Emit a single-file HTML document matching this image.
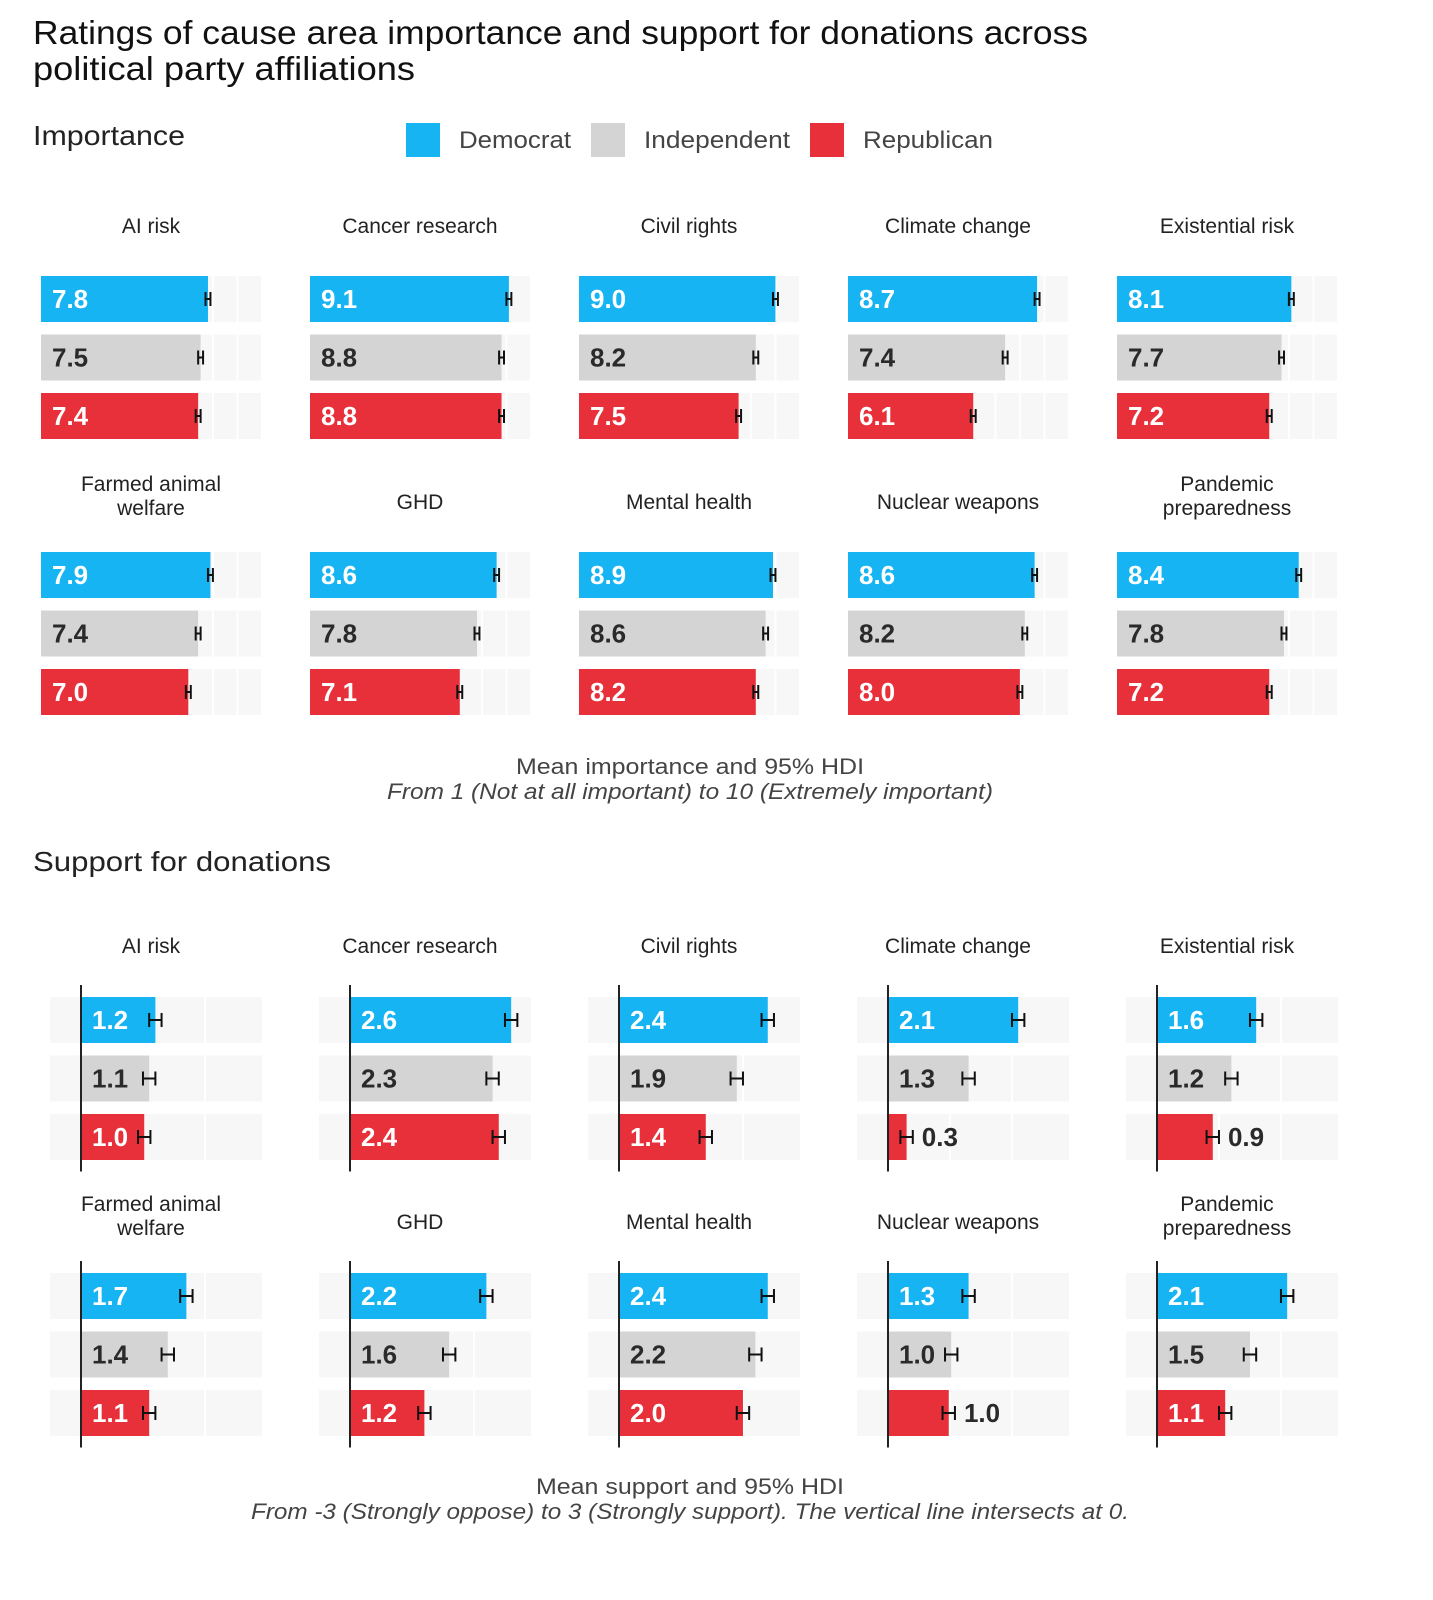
<!DOCTYPE html>
<html><head><meta charset="utf-8">
<style>
html,body{margin:0;padding:0;background:#fff;}
svg{display:block;font-family:"Liberation Sans",sans-serif;}
</style></head>
<body>
<svg id="chart" width="1433" height="1600" viewBox="0 0 1433 1600">
<text x="33" y="44" font-size="33" fill="#111" textLength="1055" lengthAdjust="spacingAndGlyphs">Ratings of cause area importance and support for donations across</text>
<text x="33" y="80" font-size="33" fill="#111" textLength="382" lengthAdjust="spacingAndGlyphs">political party affiliations</text>
<text x="33" y="145" font-size="28" fill="#222" textLength="152" lengthAdjust="spacingAndGlyphs">Importance</text>
<g>
<rect x="406" y="123" width="34" height="34" fill="#16b4f2"/>
<text x="459" y="148" font-size="24" fill="#444" textLength="112" lengthAdjust="spacingAndGlyphs">Democrat</text>
<rect x="591" y="123" width="34" height="34" fill="#d4d4d4"/>
<text x="644" y="148" font-size="24" fill="#444" textLength="146" lengthAdjust="spacingAndGlyphs">Independent</text>
<rect x="810" y="123" width="34" height="34" fill="#e8303a"/>
<text x="863" y="148" font-size="24" fill="#444" textLength="130" lengthAdjust="spacingAndGlyphs">Republican</text>
</g>
<text x="690" y="774" font-size="22" fill="#444" text-anchor="middle" textLength="348" lengthAdjust="spacingAndGlyphs">Mean importance and 95% HDI</text>
<text x="690" y="799" font-size="22" fill="#444" font-style="italic" text-anchor="middle" textLength="606" lengthAdjust="spacingAndGlyphs">From 1 (Not at all important) to 10 (Extremely important)</text>
<text x="33" y="871" font-size="28" fill="#222" textLength="298" lengthAdjust="spacingAndGlyphs">Support for donations</text>
<text x="690" y="1494" font-size="22" fill="#444" text-anchor="middle" textLength="308" lengthAdjust="spacingAndGlyphs">Mean support and 95% HDI</text>
<text x="690" y="1519" font-size="22" fill="#444" font-style="italic" text-anchor="middle" textLength="878" lengthAdjust="spacingAndGlyphs">From -3 (Strongly oppose) to 3 (Strongly support). The vertical line intersects at 0.</text>
<g id="panels"></g>
</svg>
<script>
const causes = ["AI risk","Cancer research","Civil rights","Climate change","Existential risk","Farmed animal welfare","GHD","Mental health","Nuclear weapons","Pandemic preparedness"];
const parties = ["Democrat","Independent","Republican"];
const impDem = [7.8,9.1,9.0,8.7,8.1,7.9,8.6,8.9,8.6,8.4];
const impInd = [7.5,8.8,8.2,7.4,7.7,7.4,7.8,8.6,8.2,7.8];
const impRep = [7.4,8.8,7.5,6.1,7.2,7.0,7.1,8.2,8.0,7.2];
const supDem = [1.2,2.6,2.4,2.1,1.6,1.7,2.2,2.4,1.3,2.1];
const supInd = [1.1,2.3,1.9,1.3,1.2,1.4,1.6,2.2,1.02,1.5];
const supRep = [1.02,2.4,1.4,0.3,0.9,1.1,1.2,2.0,0.98,1.1];
const hdiHalf = 0.1;

const NS="http://www.w3.org/2000/svg";
const root=document.getElementById('panels');
const colors=["#16b4f2","#d4d4d4","#e8303a"];
const textCols=["#fff","#2a2a2a","#fff"];
function mk(tag,attrs,parent){const e=document.createElementNS(NS,tag);for(const k in attrs)e.setAttribute(k,attrs[k]);parent.appendChild(e);return e;}
function slug(s){return s.toLowerCase().replace(/[^a-z0-9]+/g,'-');}

function drawSection(kind){
  const series = kind==='imp'?[impDem,impInd,impRep]:[supDem,supInd,supRep];
  const dmin = kind==='imp'?1:-0.5, dmax = kind==='imp'?10:2.92;
  const titleY = kind==='imp'?[226,502]:[946,1222];
  const barY0 = kind==='imp'?[276,552]:[997,1273];
  causes.forEach((c,i)=>{
    const col=i%5,row=Math.floor(i/5);
    const px = kind==='imp'?41+269*col:50+269*col;
    const pw = kind==='imp'?221:212;
    const x=v=>px+(v-dmin)/(dmax-dmin)*pw;
    const g=mk('g',{},root);
    
    
    let lines=[c];
    if(c==="Farmed animal welfare")lines=["Farmed animal","welfare"];
    if(c==="Pandemic preparedness")lines=["Pandemic","preparedness"];
    const cx=(kind==='imp'?41:50)+269*col+(kind==='imp'?110:101);
    lines.forEach((l,li)=>{
      const t=mk('text',{x:cx,y:lines.length>1?titleY[row]-11+li*24:titleY[row]+7,'font-size':21,fill:'#222','text-anchor':'middle'},g);
      
      
      t.textContent=l;
    });
    const y0=barY0[row];
    for(let p=0;p<3;p++){
      const by=y0+p*58.5, bh=46;
      const bg=mk('rect',{x:px,y:by,width:pw,height:bh,fill:'#f7f7f7'},g);
      
      
      for(let t=Math.ceil(dmin);t<=dmax;t++){
        if(t===dmin)continue;
        const gl=mk('line',{x1:x(t),x2:x(t),y1:by,y2:by+bh,stroke:'#fff','stroke-width':2},g);
        
        
      }
      const v=series[p][i];
      const x0=x(kind==='imp'?dmin:0);
      const bar=mk('rect',{x:x0,y:by,width:x(v)-x0,height:bh,fill:colors[p]},g);
      
      
      const lo=x(v-hdiHalf),hi=x(v+hdiHalf),my=by+bh/2;
      const eb=mk('path',{d:`M${lo},${my-7}V${my+7}M${hi},${my-7}V${my+7}M${lo},${my}H${hi}`,stroke:'#111','stroke-width':2,fill:'none'},g);
      
      
      const outside = v<1.0;
      const lbl=mk('text',{x:outside?hi+9:x0+11,y:my+9,'font-size':26,'font-weight':'bold',fill:outside?'#2a2a2a':textCols[p]},g);
      
      
      lbl.textContent=v.toFixed(1);
    }
    if(kind==='sup'){
      const ax=mk('line',{x1:x(0),x2:x(0),y1:y0-12,y2:y0+3*58.5-1,stroke:'#222','stroke-width':2},g);
      
      
    }
  });
}
drawSection('imp');
drawSection('sup');
</script>
</body></html>
